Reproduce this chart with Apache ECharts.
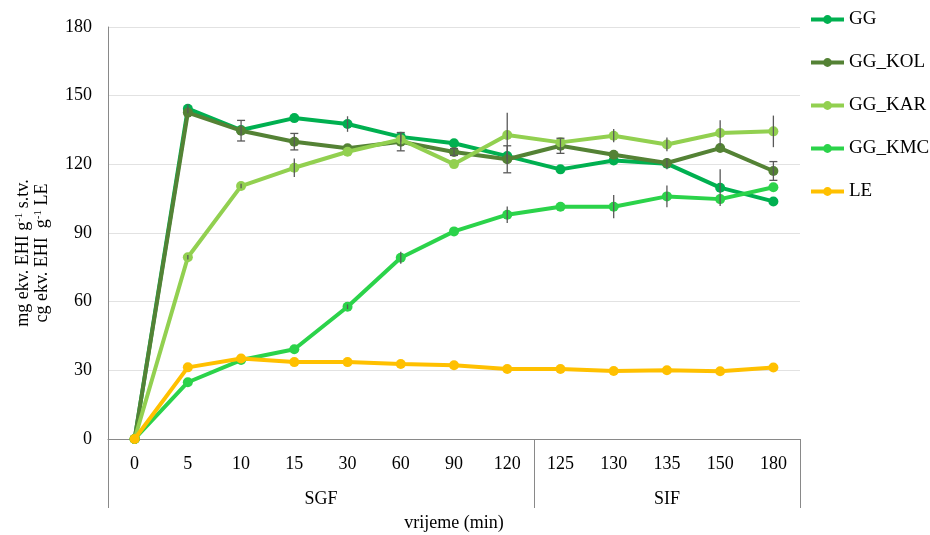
<!DOCTYPE html>
<html><head><meta charset="utf-8">
<script src="https://cdn.jsdelivr.net/npm/echarts@6/dist/echarts.min.js"></script>
<style>html,body{margin:0;padding:0;background:#fff}#c{width:930px;height:535px}</style>
</head><body><div id="c"></div>
<script>
const categories = ['0','5','10','15','30','60','90','120','125','130','135','150','180'];
const groupLabels = ['SGF','SIF'];
const groupStart = [0, 8];
const seriesNames = ['GG','GG_KOL','GG_KAR','GG_KMC','LE'];
const gg    = [0,144.3,135.0,140.2,137.6,132.0,129.2,123.6,117.8,121.7,120.3,109.8,103.8];
const ggKol = [0,142.6,134.7,129.9,127.0,129.9,125.4,122.2,128.1,124.2,120.6,127.1,117.1];
const ggKar = [0,79.4,110.5,118.5,125.5,130.9,120.1,132.8,129.6,132.5,128.7,133.7,134.4];
const ggKmc = [0,24.8,34.5,39.2,57.8,79.2,90.7,98.0,101.5,101.5,106.0,104.8,110.0];
const le    = [0,31.3,35.2,33.6,33.6,32.8,32.2,30.6,30.6,29.7,30.0,29.6,31.2];
const ggErr    = [0,2,0,0,3.4,2,0,1.5,0,0,2.5,8,0];
const ggKolErr = [0,0,4.5,3.6,0,4,1.5,5.9,3.3,0,0,0,4.1];
const ggKarErr = [0,1,1,4,0,0,0,9.7,0,2.9,3,5.6,6.9];
const ggKmcErr = [0,0,0,0,1,2.6,0,3.6,0,5.1,4.7,0,0];
const leErr    = [0,0,0,0,0,0,0,0,0,0,0,0,0];
const yMin = 0, yMax = 180, yStep = 30;

const colors = ['#00B050','#548235','#92D050','#2BD34A','#FFC000'];
const values = [gg, ggKol, ggKar, ggKmc, le];
const errs = [ggErr, ggKolErr, ggKarErr, ggKmcErr, leErr];
const caps = [false, true, false, false, false];
const FONT = 'Liberation Serif';

const chart = echarts.init(document.getElementById('c'), null, {renderer:'canvas'});
const series = [];
values.forEach((v, k) => {
  series.push({
    name: seriesNames[k], type: 'line', data: v,
    symbol: 'circle', symbolSize: 10,
    lineStyle: {width: 4, color: colors[k]},
    itemStyle: {color: colors[k]},
    z: 2 + k, animation: false
  });
});
values.forEach((v, k) => {
  const d = [];
  v.forEach((y, i) => { if (errs[k][i] > 0) d.push([i, y, errs[k][i]]); });
  series.push({
    name: 'err_' + seriesNames[k], type: 'custom', data: d, z: 20, silent: true, animation: false,
    renderItem: function (params, api) {
      const i = api.value(0), y = api.value(1), e = api.value(2);
      const top = api.coord([i, y + e]);
      const bot = api.coord([i, y - e]);
      const st = {stroke: '#595959', lineWidth: 1.3};
      const ch = [{type:'line', shape:{x1: top[0], y1: top[1], x2: bot[0], y2: bot[1]}, style: st}];
      if (caps[k]) {
        ch.push({type:'line', shape:{x1: top[0]-4, y1: top[1], x2: top[0]+4, y2: top[1]}, style: st});
        ch.push({type:'line', shape:{x1: bot[0]-4, y1: bot[1], x2: bot[0]+4, y2: bot[1]}, style: st});
      }
      return {type:'group', children: ch};
    }
  });
});

chart.setOption({
  animation: false,
  color: colors,
  textStyle: {fontFamily: FONT},
  grid: {left: 108, right: 130, top: 27, bottom: 96, containLabel: false, outerBoundsMode: 'none'},
  legend: {
    data: seriesNames, orient: 'vertical', left: 809, top: 10, padding: 0,
    itemWidth: 33, itemHeight: 11, itemGap: 24,
    lineStyle: {width: 4},
    textStyle: {fontFamily: FONT, fontSize: 19, color: '#000'}
  },
  xAxis: {
    type: 'category', data: categories, boundaryGap: true,
    axisLine: {lineStyle: {color: '#898989', width: 1}},
    axisTick: {show: true, length: 69, interval: (i) => groupStart.indexOf(i) >= 0, lineStyle: {color: '#898989', width: 1}},
    axisLabel: {fontFamily: FONT, fontSize: 18, color: '#000', margin: 16, interval: 0},
    name: 'vrijeme (min)', nameLocation: 'middle', nameGap: 75,
    nameTextStyle: {fontFamily: FONT, fontSize: 18, color: '#000'}
  },
  yAxis: {
    type: 'value', min: yMin, max: yMax, interval: yStep,
    axisLine: {show: true, lineStyle: {color: '#898989', width: 1}},
    axisTick: {show: false},
    axisLabel: {fontFamily: FONT, fontSize: 18, color: '#000', margin: 16},
    splitLine: {lineStyle: {color: '#e2e2e2', width: 1}}
  },
  series: series
});

const px = (i) => {
  const r = chart.convertToPixel({xAxisIndex: 0}, categories[i]);
  return Array.isArray(r) ? r[0] : r;
};
const pyRaw = chart.convertToPixel({yAxisIndex: 0}, 0);
const baseY = Array.isArray(pyRaw) ? pyRaw[1] : pyRaw;
const gCenters = [(px(3) + px(4)) / 2, px(10)];
chart.setOption({
  graphic: [
    ...groupLabels.map((t, g) => ({
      type: 'text', x: gCenters[g], y: baseY + 60,
      style: {text: t, fontFamily: FONT, fontSize: 18, fill: '#000', align: 'center', verticalAlign: 'middle'}
    })),
    {
      type: 'text', x: 32.5, y: 253, rotation: Math.PI / 2,
      style: {
        text: '{n|mg ekv. EHI g}{s|-1}{n| s.tv.}\n{n|cg ekv. EHI  g}{s|-1}{n| LE}',
        align: 'center', verticalAlign: 'middle', fill: '#000',
        rich: {
          n: {fontFamily: FONT, fontSize: 18, lineHeight: 19, fill: '#000'},
          s: {fontFamily: FONT, fontSize: 11, lineHeight: 12, verticalAlign: 'top', fill: '#000'}
        }
      }
    }
  ]
});
</script></body></html>
